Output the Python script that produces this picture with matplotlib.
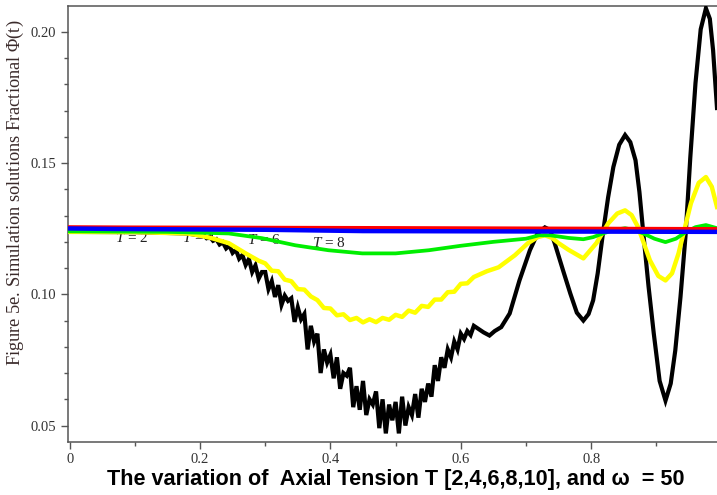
import matplotlib
matplotlib.use('Agg')
import matplotlib.pyplot as plt

plt.rcParams['mathtext.fontset'] = 'custom'
plt.rcParams['mathtext.rm'] = 'Liberation Serif'
plt.rcParams['mathtext.it'] = 'Liberation Serif:italic'

# ---- Phi(t) curves for T = 2, 4, 6, 8, 10 ----
# T = 2 (black), noisy dip then growing oscillation
t2_x = [0.000, 0.100, 0.180, 0.198, 0.205, 0.210, 0.215, 0.220, 0.225, 0.230,
        0.235, 0.240, 0.245, 0.250, 0.255, 0.260, 0.265, 0.270, 0.275, 0.280,
        0.285, 0.290, 0.295,
        0.300, 0.305, 0.310, 0.315, 0.320, 0.325, 0.330, 0.335, 0.340, 0.345,
        0.350, 0.355, 0.360, 0.365, 0.370, 0.375, 0.380, 0.385, 0.390, 0.395,
        0.400, 0.405, 0.410, 0.415, 0.420, 0.425, 0.430, 0.435, 0.440, 0.445,
        0.450, 0.455, 0.460, 0.465, 0.470, 0.475, 0.480, 0.485, 0.490, 0.495,
        0.500, 0.505, 0.510, 0.515, 0.520, 0.525, 0.530, 0.535, 0.540, 0.545,
        0.550, 0.555, 0.560, 0.565, 0.570, 0.575, 0.580, 0.585, 0.590, 0.595,
        0.600, 0.605, 0.610, 0.615, 0.620,
        0.635, 0.644, 0.652, 0.662, 0.675, 0.690, 0.706, 0.718, 0.729, 0.737,
        0.744, 0.752, 0.757, 0.768, 0.778, 0.788, 0.796, 0.803, 0.810, 0.818,
        0.826, 0.834, 0.843, 0.852, 0.860, 0.868, 0.874, 0.880, 0.888, 0.896,
        0.905, 0.914, 0.922, 0.929, 0.937, 0.945, 0.952, 0.960, 0.968, 0.976,
        0.982, 0.987, 0.993]
t2_y = [0.1238, 0.1237, 0.1232, 0.1225, 0.1226, 0.1214, 0.1220, 0.1204, 0.1210, 0.1190,
        0.1198, 0.1175, 0.1186, 0.1158, 0.1170, 0.1136, 0.1150, 0.1112, 0.1135, 0.1085,
        0.1110, 0.1060, 0.1085,
        0.1085, 0.1020, 0.1050, 0.0990, 0.1035, 0.0960, 0.0995, 0.0975, 0.0985, 0.0895,
        0.0950, 0.0905, 0.0925, 0.0790, 0.0880, 0.0820, 0.0850, 0.0700, 0.0790, 0.0740,
        0.0770, 0.0680, 0.0760, 0.0640, 0.0700, 0.0690, 0.0720, 0.0570, 0.0650, 0.0560,
        0.0670, 0.0540, 0.0600, 0.0580, 0.0630, 0.0490, 0.0600, 0.0470, 0.0580, 0.0520,
        0.0590, 0.0470, 0.0610, 0.0500, 0.0570, 0.0540, 0.0620, 0.0530, 0.0640, 0.0590,
        0.0660, 0.0610, 0.0730, 0.0670, 0.0760, 0.0720, 0.0790, 0.0760, 0.0820, 0.0790,
        0.0850, 0.0830, 0.0860, 0.0845, 0.0880,
        0.0855, 0.0843, 0.0860, 0.0875, 0.0927, 0.1053, 0.1168, 0.1233, 0.1255, 0.1245,
        0.1195, 0.1130, 0.1090, 0.1003, 0.0930, 0.0900, 0.0925, 0.0977, 0.1080, 0.1232,
        0.1370, 0.1485, 0.1570, 0.1607, 0.1580, 0.1511, 0.1390, 0.1232, 0.1030, 0.0851,
        0.0670, 0.0595, 0.0660, 0.0786, 0.0990, 0.1232, 0.1520, 0.1805, 0.2010, 0.2090,
        0.2050, 0.1930, 0.1710]

# T = 4 (yellow)
t4_x = [0.000, 0.100, 0.180, 0.198, 0.218, 0.244, 0.270, 0.290,
        0.300, 0.310, 0.320, 0.330, 0.340, 0.350, 0.360, 0.370, 0.380, 0.390,
        0.400, 0.410, 0.420, 0.430, 0.440, 0.450, 0.460, 0.470, 0.480, 0.490,
        0.500, 0.510, 0.520, 0.530, 0.540, 0.550, 0.560, 0.570, 0.580, 0.590,
        0.600, 0.610, 0.620,
        0.640, 0.658, 0.683, 0.703, 0.718, 0.729, 0.740, 0.750, 0.765, 0.788,
        0.808, 0.826, 0.840, 0.852, 0.862, 0.872, 0.890, 0.903, 0.914, 0.924,
        0.934, 0.953, 0.965, 0.976, 0.985, 0.993]
t4_y = [0.1238, 0.1237, 0.1232, 0.1225, 0.1214, 0.1195, 0.1156, 0.1128,
        0.1118, 0.1090, 0.1088, 0.1056, 0.1050, 0.1020, 0.1018, 0.0992, 0.0978, 0.0948,
        0.0946, 0.0920, 0.0924, 0.0902, 0.0910, 0.0893, 0.0905, 0.0894, 0.0910, 0.0903,
        0.0922, 0.0914, 0.0938, 0.0930, 0.0956, 0.0952, 0.0980, 0.0980, 0.1008, 0.1010,
        0.1040, 0.1042, 0.1066,
        0.1088, 0.1103, 0.1149, 0.1195, 0.1218, 0.1225, 0.1215, 0.1195, 0.1170, 0.1137,
        0.1195, 0.1270, 0.1308, 0.1320, 0.1302, 0.1256, 0.1130, 0.1070, 0.1053, 0.1080,
        0.1156, 0.1347, 0.1425, 0.1447, 0.1410, 0.1333]

# T = 6 (green)
t6_x = [0.000, 0.150, 0.200, 0.244, 0.295, 0.346, 0.397, 0.449, 0.500, 0.551,
        0.600, 0.650, 0.700, 0.720, 0.737, 0.765, 0.788, 0.803, 0.818, 0.835,
        0.852, 0.866, 0.880, 0.897, 0.914, 0.930, 0.945, 0.960, 0.976, 0.993]
t6_y = [0.1240, 0.1238, 0.1235, 0.1232, 0.1214, 0.1187, 0.1168, 0.1156, 0.1156, 0.1168,
        0.1185, 0.1200, 0.1212, 0.1225, 0.1225, 0.1215, 0.1210, 0.1218, 0.1232, 0.1245,
        0.1252, 0.1245, 0.1232, 0.1212, 0.1199, 0.1212, 0.1237, 0.1256, 0.1264, 0.1252]

# T = 8 (red) and T = 10 (blue), nearly flat
t8_x = [0.000, 0.090, 0.450, 0.993]
t8_y = [0.1256, 0.1255, 0.1253, 0.1249]
t10_x = [0.000, 0.070, 0.300, 0.450, 0.993]
t10_y = [0.1251, 0.1249, 0.1246, 0.1241, 0.1238]

curve_labels = ['2', '4', '6', '8']
label_x = [0.070, 0.172, 0.272, 0.372]
label_y = [0.1216, 0.1214, 0.1206, 0.1195]

fig = plt.figure(figsize=(7.17, 4.95), dpi=100)
ax = fig.add_axes([0.0944, 0.108, 0.9056, 0.880])

ax.plot(t2_x, t2_y, color='black', lw=3.0, zorder=3, solid_joinstyle='miter')
ax.plot(t4_x, t4_y, color='#ffff00', lw=3.2, zorder=4)
ax.plot(t6_x, t6_y, color='#00ee00', lw=2.7, zorder=5)
ax.plot(t8_x, t8_y, color='#ff0000', lw=2.8, zorder=6)
ax.plot(t10_x, t10_y, color='#0000ff', lw=3.2, zorder=7)

for lab, lx, ly in zip(curve_labels, label_x, label_y):
    ax.text(lx, ly, r'$T$ = ' + lab, family='Liberation Serif', fontsize=11,
            color='#222222', ha='left', va='center', zorder=2)

ax.set_xlim(-0.003, 0.993)
ax.set_ylim(0.0439, 0.2099)
ax.set_xticks([0, 0.2, 0.4, 0.6, 0.8])
ax.set_xticklabels(['0', '0.2', '0.4', '0.6', '0.8'])
ax.set_xticks([0.1, 0.3, 0.5, 0.7, 0.9], minor=True)
ax.set_yticks([0.05, 0.10, 0.15, 0.20])
ax.set_yticklabels(['0.05', '0.10', '0.15', '0.20'])
ax.set_yticks([0.06, 0.07, 0.08, 0.09, 0.11, 0.12, 0.13, 0.14,
               0.16, 0.17, 0.18, 0.19], minor=True)

for s in ax.spines.values():
    s.set_color('#555555')
    s.set_linewidth(1.1)
ax.spines['right'].set_visible(False)

ax.tick_params(which='major', direction='out', length=5, width=1, color='#555555',
               labelsize=10.5, labelcolor='#333333')
ax.tick_params(which='minor', direction='out', length=3, width=1, color='#555555')
for lab in ax.get_xticklabels() + ax.get_yticklabels():
    lab.set_family('Liberation Serif')

ax.set_ylabel(r'Figure 5e. Simulation solutions Fractional $\Phi$(t)',
              family='Liberation Serif', fontsize=13.2, color='#3a2a2a')
ax.yaxis.set_label_coords(-0.064, 0.571)
ax.set_xlabel('The variation of  Axial Tension T [2,4,6,8,10], and \u03c9  = 50',
              family='Liberation Sans', fontweight='bold', fontsize=15.6,
              color='black')
ax.xaxis.set_label_coords(0.505, -0.062)

fig.savefig('out.png', dpi=100)
